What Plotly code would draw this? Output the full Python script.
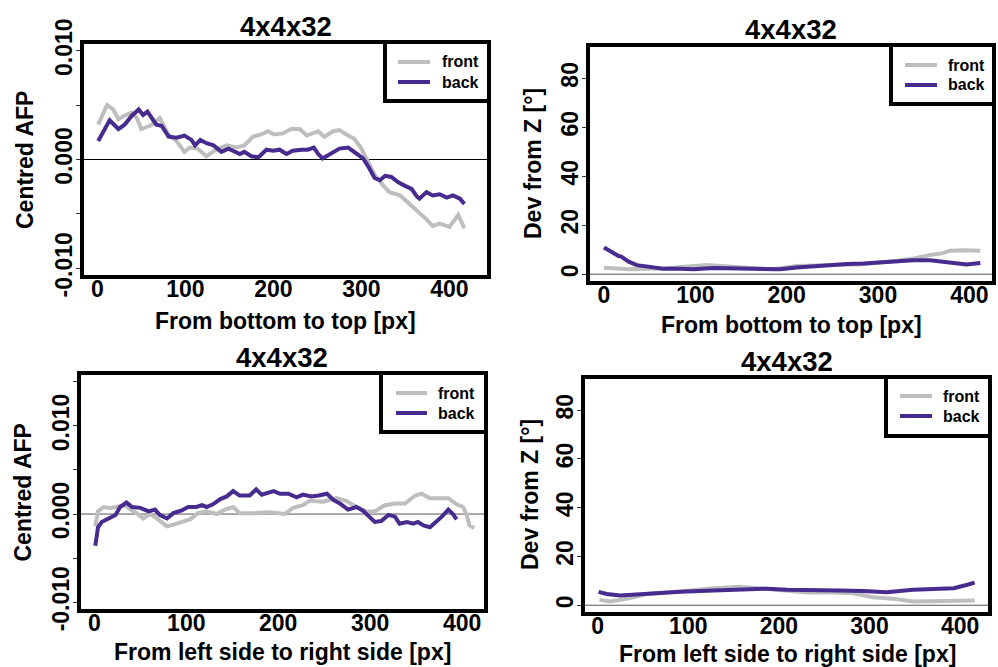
import plotly.graph_objects as go

# ---------------- data ----------------
# Panel 1: Centred AFP, bottom -> top
p1_front_x = [1, 11, 18, 24, 30, 39, 45, 50, 60, 71, 80, 90, 99, 105, 114, 124, 135, 147, 158, 167, 177, 186, 194, 201, 211, 220, 230, 238, 251, 258, 268, 275, 283, 292, 300, 308, 315, 325, 332, 344, 355, 366, 374, 381, 389, 400, 410, 417]
p1_front_y = [0.0032, 0.0050, 0.0046, 0.0037, 0.0040, 0.0043, 0.0038, 0.0028, 0.0031, 0.0038, 0.0024, 0.0017, 0.0007, 0.0011, 0.0010, 0.0003, 0.0009, 0.0013, 0.0011, 0.0013, 0.0021, 0.0023, 0.0026, 0.0023, 0.0024, 0.0028, 0.0028, 0.0022, 0.0026, 0.0021, 0.0026, 0.0027, 0.0023, 0.0019, 0.0010, -0.0003, -0.0014, -0.0024, -0.0030, -0.0033, -0.0041, -0.0048, -0.0055, -0.0061, -0.0059, -0.0062, -0.0051, -0.0063]
p1_back_x = [1, 14, 24, 31, 39, 47, 52, 57, 67, 73, 81, 90, 99, 107, 111, 117, 124, 132, 141, 149, 154, 162, 167, 175, 183, 192, 200, 207, 215, 222, 232, 239, 246, 251, 256, 264, 270, 275, 285, 292, 302, 309, 315, 321, 327, 334, 342, 349, 357, 363, 366, 374, 381, 389, 397, 404, 412, 417]
p1_back_y = [0.0017, 0.0036, 0.0028, 0.0032, 0.0040, 0.0046, 0.0041, 0.0044, 0.0032, 0.0031, 0.0021, 0.0020, 0.0022, 0.0018, 0.0013, 0.0018, 0.0015, 0.0013, 0.0007, 0.0010, 0.0008, 0.0005, 0.0007, 0.0003, 0.0002, 0.0009, 0.0008, 0.0009, 0.0005, 0.0008, 0.0009, 0.0009, 0.0011, 0.0005, 0.0001, 0.0005, 0.0007, 0.0010, 0.0011, 0.0007, 0.0001, -0.0008, -0.0017, -0.0019, -0.0015, -0.0016, -0.0021, -0.0024, -0.0027, -0.0034, -0.0036, -0.0030, -0.0033, -0.0032, -0.0035, -0.0033, -0.0036, -0.0041]

# Panel 2: Dev from Z, bottom -> top
p2_front_x = [0, 28, 65, 112, 156, 185, 211, 248, 284, 321, 339, 357, 370, 379, 394, 412]
p2_front_y = [2.6, 2.0, 2.3, 3.7, 2.6, 2.0, 3.3, 3.7, 4.1, 5.5, 6.4, 7.8, 8.5, 9.6, 9.8, 9.6]
p2_back_x = [0, 7, 16, 19, 27, 36, 47, 65, 83, 98, 120, 156, 178, 193, 211, 229, 248, 266, 284, 302, 321, 339, 357, 368, 383, 397, 412]
p2_back_y = [10.9, 9.2, 7.4, 7.2, 5.1, 3.7, 3.0, 2.2, 2.2, 2.0, 2.5, 2.3, 1.8, 2.0, 2.7, 3.3, 3.8, 4.2, 4.4, 4.9, 5.6, 5.7, 5.7, 5.3, 4.4, 4.0, 4.6]

# Panel 3: Centred AFP, left -> right
p3_front_x = [1, 4, 10, 17, 24, 33, 41, 46, 53, 61, 68, 79, 86, 95, 104, 113, 122, 133, 142, 151, 158, 173, 191, 207, 216, 227, 234, 249, 263, 274, 285, 296, 305, 316, 327, 338, 349, 356, 365, 376, 385, 394, 401, 405, 408, 413]
p3_front_y = [-0.0014, 0.0003, 0.0008, 0.0007, 0.0008, 0.0010, 0.0004, 0.0001, -0.0005, 0.0000, -0.0005, -0.0014, -0.0012, -0.0009, -0.0006, 0.0001, 0.0003, 0.0000, 0.0005, 0.0008, 0.0001, 0.0001, 0.0002, 0.0000, 0.0007, 0.0010, 0.0015, 0.0014, 0.0018, 0.0015, 0.0008, 0.0003, 0.0003, 0.0010, 0.0012, 0.0012, 0.0021, 0.0023, 0.0018, 0.0018, 0.0018, 0.0011, 0.0008, -0.0001, -0.0013, -0.0016]
p3_back_x = [1, 4, 8, 15, 23, 28, 35, 41, 50, 59, 66, 71, 79, 86, 95, 102, 111, 117, 122, 129, 137, 144, 151, 158, 169, 176, 182, 195, 202, 211, 220, 227, 236, 244, 253, 260, 267, 276, 285, 292, 300, 305, 312, 320, 327, 332, 340, 347, 352, 358, 365, 372, 378, 385, 390, 394]
p3_back_y = [-0.0036, -0.0015, -0.0009, -0.0005, -0.0001, 0.0008, 0.0013, 0.0008, 0.0007, 0.0003, 0.0005, -0.0001, -0.0005, 0.0001, 0.0004, 0.0008, 0.0008, 0.0010, 0.0008, 0.0011, 0.0017, 0.0020, 0.0026, 0.0021, 0.0021, 0.0028, 0.0022, 0.0026, 0.0023, 0.0023, 0.0019, 0.0022, 0.0020, 0.0021, 0.0023, 0.0016, 0.0012, 0.0005, 0.0008, 0.0004, -0.0004, -0.0009, -0.0008, -0.0001, -0.0003, -0.0011, -0.0009, -0.0011, -0.0009, -0.0013, -0.0015, -0.0009, -0.0003, 0.0005, 0.0000, -0.0006]

# Panel 4: Dev from Z, left -> right
p4_front_x = [2, 14, 36, 54, 91, 128, 157, 175, 201, 231, 260, 282, 304, 326, 348, 367, 393, 416]
p4_front_y = [2.2, 1.5, 2.9, 4.6, 5.6, 7.0, 7.6, 7.0, 6.0, 5.2, 5.2, 4.9, 3.3, 2.7, 1.5, 1.5, 1.7, 1.9]
p4_back_x = [1, 10, 25, 54, 91, 128, 164, 187, 209, 238, 267, 293, 319, 348, 371, 393, 407, 416]
p4_back_y = [5.5, 4.6, 4.0, 4.8, 5.5, 6.0, 6.5, 6.8, 6.3, 6.3, 6.0, 5.8, 5.3, 6.3, 6.5, 7.0, 8.3, 9.3]

title_text = "4x4x32"
series_names = ["front", "back"]
x_ticks = [0, 100, 200, 300, 400]
afp_ticks_1 = [-0.01, -0.005, 0.0, 0.005, 0.01]
afp_labels_1 = ["-0.010", "", "0.000", "", "0.010"]
afp_ticks_3 = [-0.01, -0.005, 0.0, 0.005, 0.01, 0.015]
afp_labels_3 = ["-0.010", "", "0.000", "", "0.010", ""]
dev_ticks = [0, 20, 40, 60, 80]
dev_labels = ["0", "20", "40", "60", "80"]

# ---------------- styling ----------------
W, H = 998, 667
FRONT = "#BEBEBE"
BACK = "#472B8E"
FONT = "Liberation Sans"


def X(px):
    return px / W


def Y(py):
    return 1 - py / H


panels = [
    dict(box=(82, 489, 42, 277), xr=[-17.4, 445], yr=[-0.0108, 0.0108],
         fx=p1_front_x, fy=p1_front_y, bx=p1_back_x, by=p1_back_y,
         yt=afp_ticks_1, yl=afp_labels_1, ytitle="Centred AFP",
         xtitle="From bottom to top [px]", zero="black",
         title=(285.5, 26), xt=(285, 321), yt_pos=(25, 160),
         leg=(385, 101, 398, 430, 62, 82, 481)),
    dict(box=(588, 994, 45, 283), xr=[-17.5, 427], yr=[-3.6, 93.6],
         fx=p2_front_x, fy=p2_front_y, bx=p2_back_x, by=p2_back_y,
         yt=dev_ticks, yl=dev_labels, ytitle="Dev from Z [°]",
         xtitle="From bottom to top [px]", zero="#555555",
         title=(791, 29.5), xt=(791, 325), yt_pos=(533, 164),
         leg=(891, 104, 905, 937, 65, 85, 987)),
    dict(box=(79, 486, 373, 611), xr=[-16.7, 426], yr=[-0.011, 0.016],
         fx=p3_front_x, fy=p3_front_y, bx=p3_back_x, by=p3_back_y,
         yt=afp_ticks_3, yl=afp_labels_3, ytitle="Centred AFP",
         xtitle="From left side to right side [px]", zero="#555555",
         title=(282, 357.5), xt=(282.5, 652), yt_pos=(22, 492.5),
         leg=(381, 432, 396, 427, 393, 413, 477)),
    dict(box=(583, 990, 377, 614), xr=[-16.2, 433], yr=[-3.6, 93.6],
         fx=p4_front_x, fy=p4_front_y, bx=p4_back_x, by=p4_back_y,
         yt=dev_ticks, yl=dev_labels, ytitle="Dev from Z [°]",
         xtitle="From left side to right side [px]", zero="#555555",
         title=(787, 361), xt=(787, 654), yt_pos=(530, 495),
         leg=(886, 436, 900, 932, 396, 416, 982)),
]

fig = go.Figure()
shapes = []
annotations = []

for i, p in enumerate(panels, start=1):
    xa = "x" if i == 1 else f"x{i}"
    ya = "y" if i == 1 else f"y{i}"
    l, r, t, b = p["box"]
    fig.add_trace(go.Scatter(x=p["fx"], y=p["fy"], mode="lines", name=series_names[0],
                             line=dict(color=FRONT, width=4), xaxis=xa, yaxis=ya,
                             showlegend=False))
    fig.add_trace(go.Scatter(x=p["bx"], y=p["by"], mode="lines", name=series_names[1],
                             line=dict(color=BACK, width=4), xaxis=xa, yaxis=ya,
                             showlegend=False))
    xkey = "xaxis" if i == 1 else f"xaxis{i}"
    ykey = "yaxis" if i == 1 else f"yaxis{i}"
    fig.update_layout({
        xkey: dict(domain=[X(l), X(r)], range=p["xr"], anchor=ya, automargin=False,
                   tickvals=x_ticks, ticktext=[str(v) for v in x_ticks],
                   ticks="", showgrid=False, zeroline=False, showline=False,
                   tickfont=dict(family=FONT, size=23, color="black", weight="bold"),
                   ticklabelstandoff=-4),
        ykey: dict(domain=[Y(b), Y(t)], range=p["yr"], anchor=xa, automargin=False,
                   tickvals=p["yt"], ticktext=p["yl"], tickangle=-90,
                   ticks="outside", ticklen=5, tickwidth=1, tickcolor="#333333",
                   showgrid=False, zeroline=False, showline=False,
                   tickfont=dict(family=FONT, size=23, color="black", weight="bold"),
                   ticklabelstandoff=-5),
    })
    shapes.append(dict(type="line", xref=f"{xa} domain", yref=ya, x0=0, x1=1, y0=0, y1=0,
                       line=dict(color=p["zero"], width=1), layer="below"))
    shapes.append(dict(type="rect", xref=f"{xa} domain", yref=f"{ya} domain",
                       x0=0, x1=1, y0=0, y1=1, line=dict(color="black", width=4),
                       layer="above"))
    ll, lb, lx0, lx1, lyf, lyb, ltx = p["leg"]
    shapes.append(dict(type="rect", xref="paper", yref="paper", x0=X(ll), x1=X(r),
                       y0=Y(lb), y1=Y(t), line=dict(color="black", width=4),
                       fillcolor="white", layer="above"))
    for ly, col, nm in [(lyf, FRONT, series_names[0]), (lyb, BACK, series_names[1])]:
        shapes.append(dict(type="line", xref="paper", yref="paper", x0=X(lx0), x1=X(lx1),
                           y0=Y(ly), y1=Y(ly), line=dict(color=col, width=4), layer="above"))
        annotations.append(dict(text=nm, xref="paper", yref="paper", x=X(ltx), y=Y(ly),
                                xanchor="right", yanchor="middle", showarrow=False,
                                font=dict(family=FONT, size=16, color="black", weight="bold")))
    tx, ty = p["title"]
    annotations.append(dict(text=title_text, xref="paper", yref="paper", x=X(tx), y=Y(ty),
                            xanchor="center", yanchor="middle", showarrow=False,
                            font=dict(family=FONT, size=27.5, color="black", weight="bold")))
    xx, xy = p["xt"]
    annotations.append(dict(text=p["xtitle"], xref="paper", yref="paper", x=X(xx), y=Y(xy),
                            xanchor="center", yanchor="middle", showarrow=False,
                            font=dict(family=FONT, size=23, color="black", weight="bold")))
    yx, yy = p["yt_pos"]
    annotations.append(dict(text=p["ytitle"], xref="paper", yref="paper", x=X(yx), y=Y(yy),
                            xanchor="center", yanchor="middle", showarrow=False, textangle=-90,
                            font=dict(family=FONT, size=23, color="black", weight="bold")))

fig.update_layout(width=W, height=H, margin=dict(l=0, r=0, t=0, b=0, autoexpand=False),
                  paper_bgcolor="white", plot_bgcolor="white",
                  showlegend=False, shapes=shapes, annotations=annotations,
                  font=dict(family=FONT, color="black"))

fig.write_html("out.html")
